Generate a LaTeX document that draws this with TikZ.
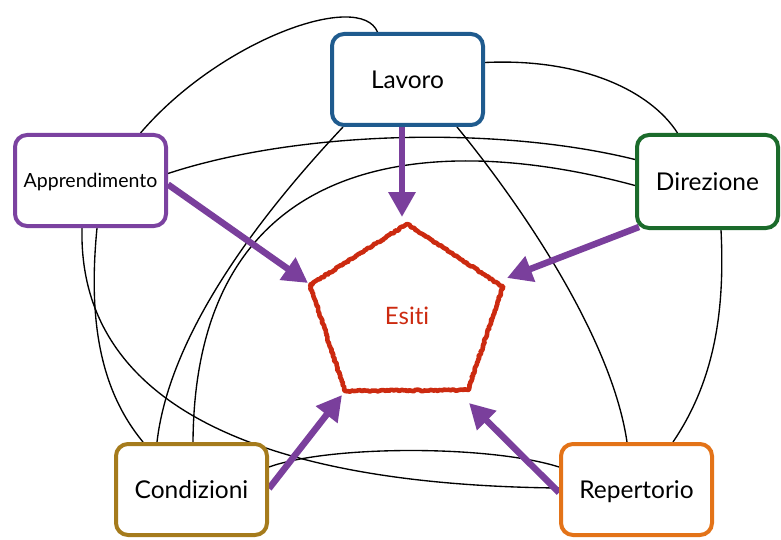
\documentclass[tikz,border=0pt]{standalone}
\usepackage{fontspec}
\setmainfont{Lato}[Ligatures=NoCommon]
\usetikzlibrary{arrows.meta,shadows,backgrounds,decorations.pathmorphing,calc}
\definecolor{lavc}{HTML}{1F5B8E}
\definecolor{appc}{HTML}{7B42A0}
\definecolor{dirc}{HTML}{1B6B2B}
\definecolor{conc}{HTML}{A57B1C}
\definecolor{repc}{HTML}{E37318}
\definecolor{arrc}{HTML}{7A3F9C}
\definecolor{redc}{HTML}{CC2A10}
\begin{document}
\begin{tikzpicture}[x=1pt,y=-1pt,
  box/.style={draw,line width=4pt,rounded corners=12pt,fill=white,
    minimum width=151pt,minimum height=91pt,inner sep=0pt,
    text height=17.4pt,text depth=0pt,font=\fontsize{24.5}{24.5}\selectfont,
    drop shadow={opacity=0.22,shadow xshift=0.8pt,shadow yshift=-0.8pt}},
  link/.style={line width=1.35pt,black},
  flow/.style={draw=arrc,line width=6.5pt,-{Triangle[length=25pt,width=26pt]}}]
\useasboundingbox (0,0) rectangle (781,540);

% nodes
\node[box,draw=lavc] (lav) at (407.5,79.5) {Lavoro};
\node[box,draw=appc,text height=13.8pt,font=\fontsize{19.5}{19.5}\selectfont] (appr) at (90.5,180.5) {Apprendimento};
\node[box,draw=dirc,minimum width=141pt,minimum height=93pt] (dir) at (707.5,181.5) {Direzione};
\node[box,draw=conc] (cond) at (191.5,489.5) {Condizioni};
\node[box,draw=repc] (rep) at (636.5,489.5) {Repertorio};

% pentagon
\coordinate (pT) at (407,224);
\coordinate (pUR) at (503,287);
\coordinate (pLR) at (468,390);
\coordinate (pLL) at (345,391);
\coordinate (pUL) at (310,285);
\draw[redc,line width=4.6pt,line join=round,
  decorate,decoration={random steps,segment length=1.5pt,amplitude=0.8pt}]
  (pT) -- (pUR) -- (pLR) -- (pLL) -- (pUL) -- cycle;
\node[text=redc,font=\fontsize{24}{24}\selectfont,text height=17pt,text depth=0pt,inner sep=0pt] (esiti) at (407,316) {Esiti};

% arrow tips
\coordinate (tipL) at (402,217);
\coordinate (tipA) at (308,283);
\coordinate (tipD) at (507,278);
\coordinate (tipC) at (342,395);
\coordinate (tipR) at (469,403);

\begin{scope}[on background layer]
  % connectors
  \draw[link] ($(appr.north)+(50,0)$) .. controls (220,40) and (360,-10) .. ($(lav.north)+(-30,0)$);
  \draw[link] ($(lav.east)+(0,-17)$) .. controls (580,58) and (650,90) .. ($(dir.north)+(-30,0)$);
  \draw[link] ($(appr.east)+(0,-7)$) .. controls (300,130) and (500,126) .. ($(dir.west)+(0,-22)$);
  \draw[link] ($(dir.west)+(0,4)$) .. controls (430,130) and (195,150) .. ($(cond.north)+(1.5,0)$);
  \draw[link] ($(lav.south west)+(13,0)$) .. controls (265,210) and (170,330) .. ($(cond.north)+(-34.5,0)$);
  \draw[link] ($(lav.south)+(49.5,0)$) .. controls (525,210) and (612,340) .. ($(rep.north)+(-9.5,0)$);
  \draw[link] ($(dir.south)+(13.5,0)$) .. controls (725,310) and (715,380) .. ($(rep.north)+(36.5,0)$);
  \draw[link] ($(appr.south)+(-8.5,0)$) .. controls (78,400) and (250,485) .. ($(rep.west)+(0,-1.5)$);
  \draw[link] ($(appr.south)+(6.5,0)$) .. controls (88,320) and (100,390) .. ($(cond.north)+(-48.5,0)$);
  \draw[link] ($(cond.east)+(0,-22.5)$) .. controls (330,445) and (490,445) .. ($(rep.west)+(0,-22.5)$);
  % flows
  \draw[flow] ($(lav.south)+(-5.5,0)$) -- (tipL);
  \draw[flow] ($(appr.east)+(0,4)$) -- (tipA);
  \draw[flow] ($(dir.south west)+(4,-3)$) -- (tipD);
  \draw[flow] ($(cond.east)+(0,-1)$) -- (tipC);
  \draw[flow] ($(rep.west)+(0,3)$) -- (tipR);
\end{scope}
\end{tikzpicture}
\end{document}
